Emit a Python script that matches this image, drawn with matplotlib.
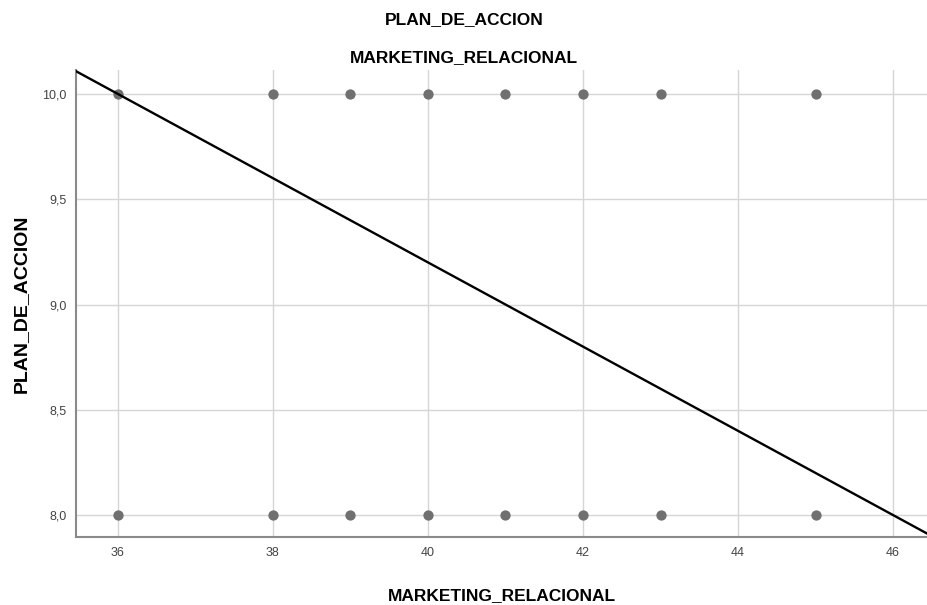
import numpy as np
import matplotlib.pyplot as plt
from matplotlib.ticker import FuncFormatter

# Puntos observados (MARKETING_RELACIONAL vs PLAN_DE_ACCION)
marketing = [36, 38, 39, 40, 41, 42, 43, 45,
             36, 38, 39, 40, 41, 42, 43, 45]
plan_accion = [10, 10, 10, 10, 10, 10, 10, 10,
               8, 8, 8, 8, 8, 8, 8, 8]

# Recta de ajuste lineal
intercepto = 17.2
pendiente = -0.2

x_ticks = [36, 38, 40, 42, 44, 46]
y_ticks = [8.0, 8.5, 9.0, 9.5, 10.0]

fuente = ["Liberation Sans", "DejaVu Sans"]

fig = plt.figure(figsize=(9.28, 6.05), dpi=100)
ax = fig.add_axes([0.0819, 0.1124, 0.9181, 0.772])

ax.scatter(marketing, plan_accion, s=55, color="#707070", zorder=3, linewidths=0)

xs = np.array([35.0, 47.0])
ax.plot(xs, intercepto + pendiente * xs, color="black", linewidth=1.7, zorder=4)

ax.set_xlim(35.46, 46.45)
ax.set_ylim(7.896, 10.114)
ax.set_xticks(x_ticks)
ax.set_yticks(y_ticks)
ax.yaxis.set_major_formatter(FuncFormatter(lambda v, p: f"{v:.1f}".replace(".", ",")))
ax.tick_params(length=0, pad=7, colors="#444444")
for lbl in ax.get_xticklabels() + ax.get_yticklabels():
    lbl.set_family(fuente)
    lbl.set_fontsize(9)

ax.grid(True, color="#d6d6d6", linewidth=1.0, zorder=0)
ax.set_axisbelow(True)
for lado in ["top", "right"]:
    ax.spines[lado].set_visible(False)
for lado in ["left", "bottom"]:
    ax.spines[lado].set_color("#8a8a8a")
    ax.spines[lado].set_linewidth(1.5)

ax.set_xlabel("MARKETING_RELACIONAL", family=fuente, fontsize=12.5,
              fontweight="bold", labelpad=21)
ax.set_ylabel("PLAN_DE_ACCION", family=fuente, fontsize=14,
              fontweight="bold", labelpad=9)

fig.text(0.5, 1 - 20 / 605, "PLAN_DE_ACCION", family=fuente, fontsize=12.5,
         fontweight="bold", ha="center", va="center")
fig.text(0.5, 1 - 58 / 605, "MARKETING_RELACIONAL", family=fuente, fontsize=12.5,
         fontweight="bold", ha="center", va="center")

fig.savefig("out.png", dpi=100)
